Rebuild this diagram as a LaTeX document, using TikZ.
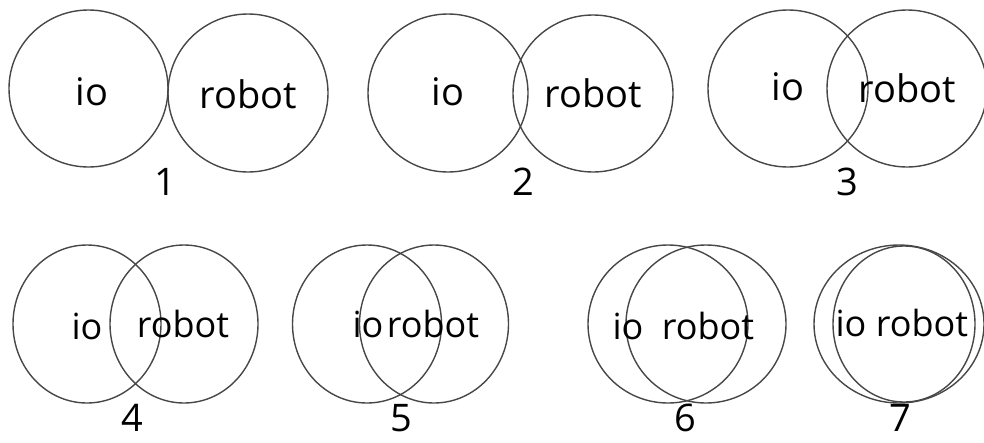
\documentclass[tikz,border=0pt]{standalone}
\usepackage{fontspec}
\setmainfont{Open Sans}

\begin{document}
\begin{tikzpicture}[x=1pt,y=-1pt,
	ring/.style={line width=1.4pt,black!72},
	word/.style={anchor=base,inner sep=0pt,font=\fontsize{38}{40}\selectfont},
	lowword/.style={word,font=\fontsize{36}{38}\selectfont}]
	\useasboundingbox (0,0) rectangle (984,442);
	% top row
	\draw[ring] (88.5,88.5) ellipse [x radius=79.5, y radius=78.5];
	\draw[ring] (248,93) ellipse [x radius=80, y radius=79];
	\node[word] (io1) at (92,105) {io};
	\node[word] (robot1) at (248,108) {robot};
	\node[word] (n1) at (165,195) {1};
	\draw[ring] (448,93) ellipse [x radius=80, y radius=79];
	\draw[ring] (593,93.5) ellipse [x radius=80, y radius=78.5];
	\node[word] (io2) at (448,105) {io};
	\node[word] (robot2) at (593,107) {robot};
	\node[word] (n2) at (523,195) {2};
	\draw[ring] (788,88.5) ellipse [x radius=80, y radius=78.5];
	\draw[ring] (907,88.5) ellipse [x radius=80, y radius=78.5];
	\node[word] (io3) at (788,100) {io};
	\node[word] (robot3) at (907,102) {robot};
	\node[word] (n3) at (847,195) {3};
	% bottom row
	\draw[ring] (87,324) ellipse [x radius=74, y radius=79];
	\draw[ring] (184,324) ellipse [x radius=74, y radius=79];
	\node[lowword] (io4) at (87,339) {io};
	\node[lowword] (robot4) at (183,337) {robot};
	\node[word] (n4) at (132,431) {4};
	\draw[ring] (367,324) ellipse [x radius=74.5, y radius=79];
	\draw[ring] (434,324) ellipse [x radius=74.5, y radius=79];
	\node[lowword] (io5) at (368,337) {io};
	\node[lowword] (robot5) at (433,337) {robot};
	\node[word] (n5) at (401,431) {5};
	\draw[ring] (668,324) ellipse [x radius=80, y radius=79];
	\draw[ring] (706,324) ellipse [x radius=80, y radius=79];
	\node[lowword] (io6) at (628,339) {io};
	\node[lowword] (robot6) at (708,339) {robot};
	\node[word] (n6) at (685,431) {6};
	\draw[ring] (899,324) ellipse [x radius=85, y radius=79];
	\draw[ring] (904,324) ellipse [x radius=71, y radius=78];
	\node[lowword] (io7) at (851,336) {io};
	\node[lowword] (robot7) at (922,336) {robot};
	\node[word] (n7) at (900,431) {7};
\end{tikzpicture}
\end{document}
